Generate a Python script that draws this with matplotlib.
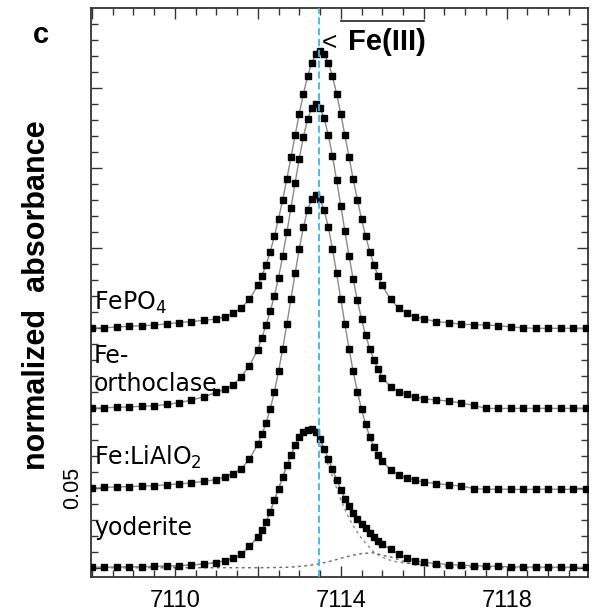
import matplotlib
matplotlib.use("Agg")
import matplotlib.pyplot as plt
from matplotlib.ticker import MultipleLocator, FuncFormatter

# photon energy (eV) of the measured points
energy = [7108.0, 7108.3, 7108.6, 7108.9, 7109.2, 7109.5, 7109.8, 7110.1, 7110.4, 7110.7, 7111.0,
          7111.2, 7111.4, 7111.6, 7111.8,
          7112.0, 7112.1, 7112.2, 7112.3, 7112.4, 7112.5, 7112.6, 7112.7, 7112.8, 7112.9,
          7113.0, 7113.1, 7113.2, 7113.3, 7113.4, 7113.5, 7113.6, 7113.7, 7113.8, 7113.9,
          7114.0, 7114.1, 7114.2, 7114.3, 7114.4, 7114.5, 7114.6, 7114.7, 7114.8, 7114.9, 7115.0,
          7115.2, 7115.4, 7115.6, 7115.8, 7116.0,
          7116.3, 7116.6, 7116.9, 7117.2, 7117.5, 7117.8, 7118.1, 7118.4, 7118.7, 7119.0, 7119.3, 7119.6, 7119.9]

# pre-edge spectra, already offset (0.15, 0.10, 0.05, 0)
fepo4 = [0.1500, 0.1502, 0.1506, 0.1511, 0.1514, 0.1518, 0.1526, 0.1534, 0.1540, 0.1548, 0.1556,
         0.1570, 0.1591, 0.1624, 0.1680,
         0.1766, 0.1825, 0.1895, 0.1978, 0.2073, 0.2182, 0.2302, 0.2431, 0.2566, 0.2704,
         0.2839, 0.2964, 0.3072, 0.3157, 0.3211, 0.3230, 0.3211, 0.3157, 0.3072, 0.2964,
         0.2839, 0.2704, 0.2566, 0.2431, 0.2302, 0.2182, 0.2073, 0.1978, 0.1895, 0.1825, 0.1766,
         0.1680, 0.1624, 0.1591, 0.1570, 0.1557,
         0.1540, 0.1533, 0.1524, 0.1520, 0.1519, 0.1515, 0.1507, 0.1501, 0.1498, 0.1498, 0.1498, 0.1498, 0.1498]

orthoclase = [0.0998, 0.1002, 0.1004, 0.1007, 0.1011, 0.1014, 0.1022, 0.1034, 0.1049, 0.1071, 0.1097,
              0.1118, 0.1143, 0.1195, 0.1265,
              0.1365, 0.1440, 0.1520, 0.1605, 0.1700, 0.1815, 0.1950, 0.2097, 0.2251, 0.2408,
              0.2559, 0.2695, 0.2804, 0.2875, 0.2900, 0.2877, 0.2810, 0.2706, 0.2574, 0.2424,
              0.2265, 0.2105, 0.1950, 0.1804, 0.1673, 0.1556, 0.1455, 0.1370, 0.1300, 0.1243, 0.1190,
              0.1134, 0.1100, 0.1085, 0.1070, 0.1058,
              0.1050, 0.1044, 0.1031, 0.1017, 0.0998, 0.0997, 0.0998, 0.0997, 0.0998, 0.0998, 0.0997, 0.0998, 0.0998]

lialo2 = [0.0498, 0.0504, 0.0507, 0.0509, 0.0512, 0.0515, 0.0520, 0.0526, 0.0532, 0.0542, 0.0553,
          0.0570, 0.0590, 0.0620, 0.0680,
          0.0775, 0.0835, 0.0905, 0.0995, 0.1100, 0.1229, 0.1370, 0.1523, 0.1682, 0.1842,
          0.1995, 0.2130, 0.2237, 0.2306, 0.2330, 0.2306, 0.2237, 0.2130, 0.1995, 0.1842,
          0.1682, 0.1523, 0.1370, 0.1229, 0.1102, 0.0992, 0.0898, 0.0820, 0.0757, 0.0707, 0.0667,
          0.0614, 0.0583, 0.0562, 0.0548, 0.0537,
          0.0528, 0.0519, 0.0513, 0.0497, 0.0492, 0.0493, 0.0492, 0.0491, 0.0492, 0.0493, 0.0492, 0.0492, 0.0491]

yoderite = [0.0004, 0.0005, 0.0006, 0.0007, 0.0008, 0.0010, 0.0012, 0.0015, 0.0019, 0.0025, 0.0034,
            0.0045, 0.0061, 0.0085, 0.0135,
            0.0196, 0.0236, 0.0289, 0.0353, 0.0425, 0.0495, 0.0568, 0.0642, 0.0707, 0.0768,
            0.0818, 0.0848, 0.0864, 0.0868, 0.0848, 0.0805, 0.0745, 0.0682, 0.0618, 0.0552,
            0.0490, 0.0434, 0.0385, 0.0344, 0.0308, 0.0277, 0.0248, 0.0220, 0.0195, 0.0170, 0.0148,
            0.0118, 0.0088, 0.0062, 0.0045, 0.0036,
            0.0028, 0.0022, 0.0018, 0.0015, 0.0012, 0.0010, 0.0008, 0.0007, 0.0006, 0.0005, 0.0005, 0.0004, 0.0004]

# the two fitted components of the yoderite pre-edge
yoderite_main = [0.0004, 0.0005, 0.0006, 0.0007, 0.0008, 0.0010, 0.0012, 0.0015, 0.0019, 0.0025, 0.0034,
                 0.0045, 0.0061, 0.0085, 0.0135,
                 0.0196, 0.0236, 0.0288, 0.0352, 0.0424, 0.0493, 0.0566, 0.0639, 0.0702, 0.0761,
                 0.0809, 0.0837, 0.0850, 0.0850, 0.0825, 0.0777, 0.0711, 0.0642, 0.0572, 0.0499,
                 0.0429, 0.0366, 0.0311, 0.0264, 0.0223, 0.0187, 0.0156, 0.0126, 0.0100, 0.0082, 0.0068,
                 0.0048, 0.0036, 0.0029, 0.0025, 0.0022,
                 0.0019, 0.0016, 0.0014, 0.0012, 0.0010, 0.0009, 0.0008, 0.0007, 0.0006, 0.0005, 0.0005, 0.0004, 0.0004]

yoderite_second = [0.0002, 0.0002, 0.0002, 0.0002, 0.0002, 0.0002, 0.0002, 0.0002, 0.0002, 0.0002, 0.0002,
                   0.0002, 0.0002, 0.0002, 0.0002,
                   0.0002, 0.0002, 0.0002, 0.0003, 0.0003, 0.0004, 0.0004, 0.0005, 0.0006, 0.0008,
                   0.0010, 0.0012, 0.0015, 0.0019, 0.0023, 0.0028, 0.0034, 0.0040, 0.0046, 0.0053,
                   0.0061, 0.0068, 0.0074, 0.0080, 0.0085, 0.0090, 0.0092, 0.0094, 0.0095, 0.0088, 0.0080,
                   0.0070, 0.0052, 0.0033, 0.0020, 0.0014,
                   0.0009, 0.0006, 0.0004, 0.0003, 0.0002, 0.0002, 0.0002, 0.0002, 0.0002, 0.0002, 0.0002, 0.0002, 0.0002]

spectra = [fepo4, orthoclase, lialo2, yoderite]
names = ['FePO$_4$', 'Fe-', 'orthoclase', 'Fe:LiAlO$_2$', 'yoderite']
name_y = [0.1613, 0.1281, 0.1106, 0.0644, 0.0206]

fe3_energy = 7113.47

plt.rcParams['mathtext.default'] = 'regular'

fig = plt.figure(figsize=(5.98, 6.13), dpi=100)
ax = fig.add_axes([0.1522, 0.0595, 0.8311, 0.927])

ax.plot(energy, yoderite_main, color='#8c8c8c', lw=1.0, ls=(0, (2, 2.5)), zorder=1)
ax.plot(energy, yoderite_second, color='#666666', lw=1.0, ls=(0, (2, 2.5)), zorder=1)

for y in spectra:
    ax.plot(energy, y, color='#8a8a8a', lw=1.0, zorder=2)
    ax.plot(energy, y, 's', color='black', ms=5, zorder=3)

ax.axvline(fe3_energy, color='#3db5e8', lw=1.3, ls=(0, (4, 2)), zorder=4)

for name, yy in zip(names, name_y):
    ax.text(7108.05, yy, name, fontsize=17, family='DejaVu Sans', va='baseline')

ax.text(7113.54, 0.3238, '<', fontsize=19, family='Liberation Sans', va='baseline')
ax.text(7114.17, 0.3238, 'Fe(III)', fontsize=21, fontweight='bold',
        family='Liberation Sans', va='baseline')
ax.plot([7114, 7116], [0.3420, 0.3420], color='#333333', lw=1.3, zorder=4)

ax.set_xlim(7107.98, 7119.96)
ax.set_ylim(-0.0053, 0.3498)

ax.xaxis.set_major_locator(MultipleLocator(2))
ax.xaxis.set_minor_locator(MultipleLocator(0.5))
ax.xaxis.set_major_formatter(FuncFormatter(
    lambda v, p: f'{v:.0f}' if round(v) in (7110, 7114, 7118) else ''))
ax.yaxis.set_major_locator(MultipleLocator(0.05))
ax.yaxis.set_minor_locator(MultipleLocator(0.01))
ax.yaxis.set_major_formatter(FuncFormatter(
    lambda v, p: '0.05' if abs(v - 0.05) < 1e-6 else ''))

ax.tick_params(which='both', direction='in', top=True, right=True, color='#333333')
ax.tick_params(which='major', length=8, width=1.0)
ax.tick_params(which='minor', length=5, width=1.0)
ax.tick_params(axis='x', which='major', pad=10, labelsize=17)
ax.tick_params(axis='y', which='major', pad=6, labelsize=15.5)
for lab in ax.get_xticklabels() + ax.get_yticklabels():
    lab.set_family('Liberation Sans')
for lab in ax.get_yticklabels():
    lab.set_rotation(90)
    lab.set_va('center')

for s in ax.spines.values():
    s.set_linewidth(1.3)
    s.set_color('#333333')

fig.text(0.062, 0.519, 'normalized  absorbance', rotation=90, fontsize=22,
         fontweight='bold', family='Liberation Sans', ha='center', va='center')
fig.text(0.0686, 0.9299, 'c', fontsize=21, fontweight='bold', family='Liberation Sans',
         ha='center', va='baseline')

fig.savefig('out.png', dpi=100)
